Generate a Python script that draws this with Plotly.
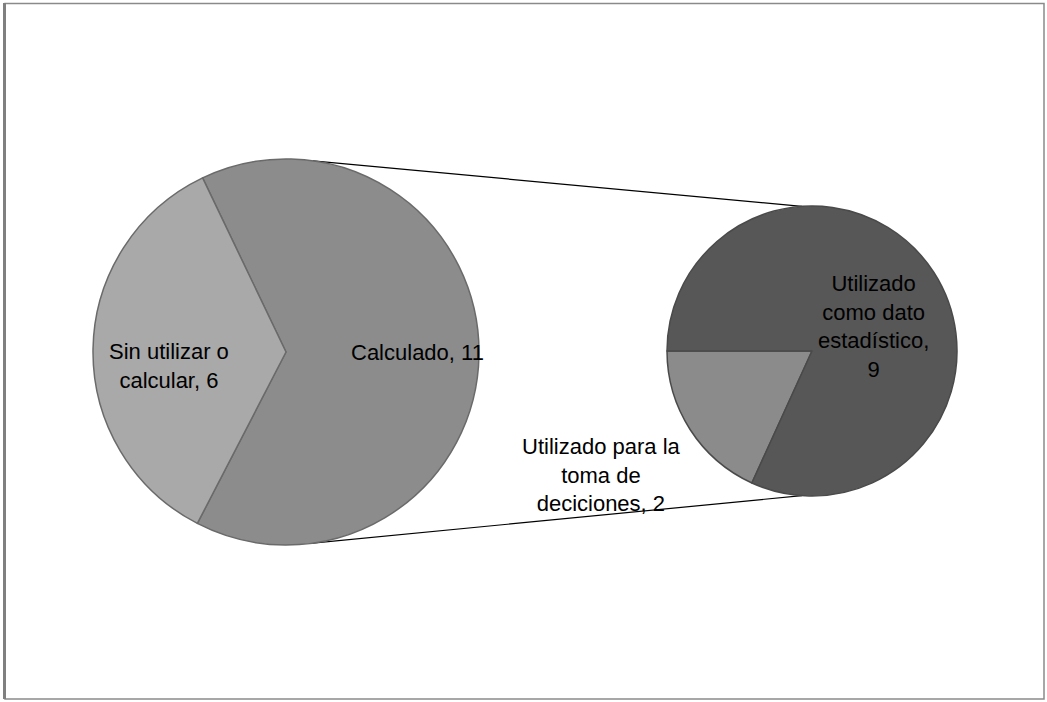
import math
import plotly.graph_objects as go

W, H = 1047, 702

# main pie
main_labels = ["Calculado", "Sin utilizar o calcular"]
main_values = [11, 6]
main_colors = ["#8c8c8c", "#a9a9a9"]

# secondary pie (breakdown of "Calculado")
sec_labels = ["Utilizado para la toma de deciciones", "Utilizado como dato estadístico"]
sec_values = [2, 9]
sec_colors = ["#8b8b8b", "#575757"]

# label text (as shown on the chart) and where it sits, in pixels
label_text = ["Calculado, 11", "Sin utilizar o<br>calcular, 6",
              "Utilizado para la<br>toma de<br>deciciones, 2",
              "Utilizado<br>como dato<br>estadístico,<br>9"]
label_pos = [(417, 353), (169, 366), (601, 475), (873, 326)]

# geometry of the two pies (pixel centre, radius)
main_c, main_r = (286, 352), 193
sec_c, sec_r = (812, 351), 145


def dom(c, r):
    return dict(x=[(c[0] - r) / W, (c[0] + r) / W],
                y=[(H - c[1] - r) / H, (H - c[1] + r) / H])


def edge(c, r, bearing):
    a = math.radians(bearing)
    return c[0] + r * math.sin(a), c[1] - r * math.cos(a)


fig = go.Figure()
fig.add_trace(go.Pie(labels=main_labels, values=main_values, sort=False,
                     direction="clockwise", rotation=334.4,
                     marker=dict(colors=main_colors, line=dict(color="#6a6a6a", width=1.5)),
                     textinfo="none", hoverinfo="label+value",
                     domain=dom(main_c, main_r), showlegend=False))
fig.add_trace(go.Pie(labels=sec_labels, values=sec_values, sort=False,
                     direction="clockwise", rotation=204.5,
                     marker=dict(colors=sec_colors, line=dict(color="#4a4a4a", width=1.5)),
                     textinfo="none", hoverinfo="label+value",
                     domain=dom(sec_c, sec_r), showlegend=False))

shapes = []
# connector lines between the pies
for b_main, b_sec in [(8, -4), (172, 184)]:
    x0, y0 = edge(main_c, main_r, b_main)
    x1, y1 = edge(sec_c, sec_r, b_sec)
    shapes.append(dict(type="line", xref="paper", yref="paper",
                       x0=x0 / W, y0=1 - y0 / H, x1=x1 / W, y1=1 - y1 / H,
                       line=dict(color="#000000", width=1.2), layer="below"))
# frame
shapes.append(dict(type="rect", xref="paper", yref="paper",
                   x0=5 / W, y0=1 - 699 / H, x1=1044 / W, y1=1 - 3.5 / H,
                   line=dict(color="#8a8a8a", width=1.5)))
shapes.append(dict(type="line", xref="paper", yref="paper",
                   x0=4.5 / W, y0=1 - 699 / H, x1=4.5 / W, y1=1 - 3 / H,
                   line=dict(color="#808080", width=3)))

annotations = []
for t, (x, y) in zip(label_text, label_pos):
    annotations.append(dict(text=t, x=x / W, y=1 - y / H, xref="paper", yref="paper",
                            showarrow=False, xanchor="center", yanchor="middle",
                            align="center",
                            font=dict(family="Liberation Sans, Arial", size=22, color="#000000")))

fig.update_layout(width=W, height=H, margin=dict(l=0, r=0, t=0, b=0),
                  paper_bgcolor="white", plot_bgcolor="white",
                  shapes=shapes, annotations=annotations)

fig.write_html("out.html", config={"displayModeBar": False},
               post_script="document.body.style.margin='0';")
